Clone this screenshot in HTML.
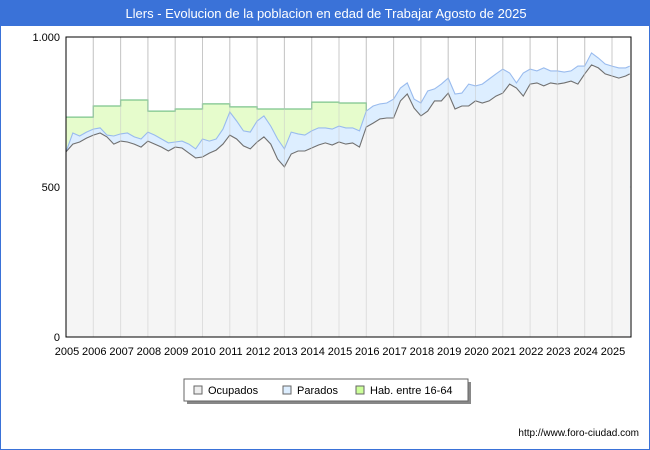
<!DOCTYPE html>
<html><head><meta charset="utf-8">
<style>
body{margin:0;background:#fff;font-family:"Liberation Sans","DejaVu Sans",sans-serif;}
#wrap{position:relative;width:650px;height:450px;overflow:hidden;box-sizing:border-box;border:1px solid #3a72d8;}
#title{position:absolute;left:0;top:0;width:650px;height:25px;background:#3a72d8;color:#fff;font-size:13px;line-height:25px;text-align:center;}
#foot{position:absolute;right:10px;top:427px;font-size:10px;color:#000;}
</style></head><body>
<div id="wrap">
<div id="title">Llers - Evolucion de la poblacion en edad de Trabajar Agosto de 2025</div>
<svg id="chart" width="650" height="450" style="position:absolute;left:0;top:0"></svg>
<div id="foot">http://www.foro-ciudad.com</div>
</div>
<script>
const years=[2005,2006,2007,2008,2009,2010,2011,2012,2013,2014,2015,2016,2017,2018,2019,2020,2021,2022,2023,2024,2025];
const habValues=[733,770,790,753,760,777,767,760,760,783,780];
const ocupados=[617,643,650,663,673,680,667,643,653,650,643,633,653,643,633,620,633,630,613,597,600,613,623,643,673,660,637,627,650,667,643,593,567,610,620,620,630,640,647,640,650,643,647,633,700,713,727,730,730,787,810,763,737,753,787,787,813,760,770,770,787,780,787,803,813,843,830,803,843,847,837,847,843,847,853,843,877,907,897,877,870,863,870,877];
const parados=[617,680,670,683,693,697,673,670,677,680,667,660,683,673,660,647,650,653,643,627,660,653,660,693,750,720,687,683,720,737,703,660,627,683,677,673,687,697,697,693,703,697,697,687,753,770,777,780,793,830,847,793,780,820,827,843,863,810,813,843,837,843,860,877,893,880,847,880,893,887,897,887,887,883,887,903,903,947,930,910,903,897,897,903];
const yTicks=[0,500,1000];
const yTickLabels=["0","500","1.000"];

const svg=document.getElementById('chart');
const NS='http://www.w3.org/2000/svg';
const X0=65,X1=630,Y0=336,Y1=36;
const xOf=t=>X0+(t-2005)*27.3;
const yOf=v=>Y0-(v/1000)*(Y0-Y1);
const tOf=i=>2005+Math.min(i*0.25,20.65);
function mk(tag,attrs,name){const e=document.createElementNS(NS,tag);for(const k in attrs)e.setAttribute(k,attrs[k]);


svg.appendChild(e);return e;}

mk('rect',{x:X0,y:Y1,width:X1-X0,height:Y0-Y1,fill:'#fff'},'plot-background');
// grid
yTicks.forEach((v,i)=>{mk('line',{x1:X0,x2:X1,y1:yOf(v),y2:yOf(v),stroke:'#e4e4e4'},'y-gridline');});
years.forEach((y,i)=>{if(i>0){mk('line',{x1:xOf(y),x2:xOf(y),y1:Y1,y2:Y0,stroke:'#c8c8c8'},'x-gridline');}});

// hab step area
let hp=`M${xOf(2005)},${Y0}`;
habValues.forEach((v,i)=>{hp+=` L${xOf(years[i])},${yOf(v)} L${xOf(years[i+1])},${yOf(v)}`;});
hp+=` L${xOf(years[habValues.length])},${Y0} Z`;
mk('path',{d:hp,fill:'#e6fccc',stroke:'none'},'hab-area');
let hl=`M${xOf(2005)},${yOf(habValues[0])}`;
habValues.forEach((v,i)=>{hl+=` L${xOf(years[i])},${yOf(v)} L${xOf(years[i+1])},${yOf(v)}`;});
hl+=` L${xOf(years[habValues.length])},${yOf(parados[44])}`;
mk('path',{d:hl,fill:'none',stroke:'#7cc48c','stroke-width':1.3},'hab-line');

function area(arr,fill,stroke,name){
 let d=`M${xOf(tOf(0))},${Y0}`;
 arr.forEach((v,i)=>{d+=` L${xOf(tOf(i))},${yOf(v)}`;});
 d+=` L${xOf(tOf(arr.length-1))},${Y0} Z`;
 mk('path',{d:d,fill:fill},name+'-area');
 let l='';arr.forEach((v,i)=>{l+=(i?' L':'M')+xOf(tOf(i))+','+yOf(v);});
 mk('path',{d:l,fill:'none',stroke:stroke,'stroke-width':1.1},name+'-line');
}
area(parados,'#ddeeff','#99bbee','parados');
area(ocupados,'#f5f5f5','#707070','ocupados');
// redraw vertical grid faintly over the grey area
years.forEach((y,i)=>{if(i>0){mk('line',{x1:xOf(y),x2:xOf(y),y1:Y1,y2:Y0,stroke:'#c8c8c8','stroke-opacity':0.5},'x-gridline-overlay');}});

// axes
mk('rect',{x:X0,y:Y1,width:X1-X0,height:Y0-Y1,fill:'none',stroke:'#000','stroke-width':1},'plot-border');
yTicks.forEach((v,i)=>{const t=mk('text',{x:X0-6,y:yOf(v)+4,'text-anchor':'end','font-size':11,fill:'#000'},'y-tick-label');t.textContent=yTickLabels[i];});
years.forEach(y=>{const t=mk('text',{x:xOf(y)+1,y:354,'text-anchor':'middle','font-size':11,fill:'#000'},'x-tick-label');t.textContent=y;});

// legend
mk('rect',{x:186,y:381,width:284,height:22,fill:'#888'},'legend-shadow');
mk('rect',{x:183,y:378,width:284,height:22,fill:'#fff',stroke:'#666'},'legend-box');
const leg=[["Ocupados","#eeeeee",193],["Parados","#ddeeff",282],["Hab. entre 16-64","#ccff99",355]];
leg.forEach(l=>{mk('rect',{x:l[2],y:385,width:8,height:8,fill:l[1],stroke:'#666'},'legend-swatch');
const t=mk('text',{x:l[2]+14,y:393,'font-size':11,fill:'#000'},'legend-entry');t.textContent=l[0];});
</script>
</body></html>
